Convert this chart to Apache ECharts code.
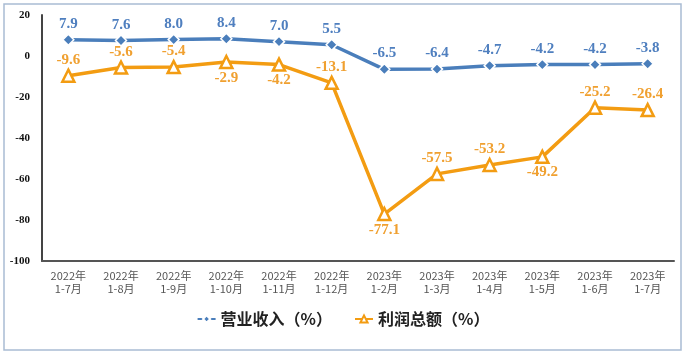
<!DOCTYPE html>
<html><head><meta charset="utf-8">
<script src="https://cdn.jsdelivr.net/npm/echarts@6/dist/echarts.min.js"></script>
<style>html,body{margin:0;padding:0;background:#fff}#c{width:686px;height:355px}</style>
</head><body><div id="c"></div>
<script>
const categories = ['2022年\n1-7月','2022年\n1-8月','2022年\n1-9月','2022年\n1-10月','2022年\n1-11月','2022年\n1-12月','2023年\n1-2月','2023年\n1-3月','2023年\n1-4月','2023年\n1-5月','2023年\n1-6月','2023年\n1-7月'];
const revenue = [7.9, 7.6, 8.0, 8.4, 7.0, 5.5, -6.5, -6.4, -4.7, -4.2, -4.2, -3.8];
const profit = [-9.6, -5.6, -5.4, -2.9, -4.2, -13.1, -77.1, -57.5, -53.2, -49.2, -25.2, -26.4];
const profitLabelPos = ['top','top','top','bottom','bottom','top','bottom','top','top','bottom','top','top'];
const yTicks = [20, 0, -20, -40, -60, -80, -100];

const blue = '#4a7ebb', orange = '#f39c12';
const chart = echarts.init(document.getElementById('c'));
chart.setOption({
  animation: false,
  graphic: [{type:'rect', shape:{x:4,y:4,width:677,height:346}, style:{fill:'none', stroke:'#a9bcd3', lineWidth:1.5}, silent:true}],
  grid: {left: 42, right: 12, top: 15, bottom: 94},
  legend: {
    bottom: 23, left: 'center', itemGap: 22, itemWidth: 18, itemHeight: 9,
    textStyle: {fontSize: 16, fontWeight: 'bold', color: '#222', fontFamily: 'Noto Sans CJK SC'},
    data: ['营业收入（%）', '利润总额（%）']
  },
  xAxis: {
    type: 'category', data: categories, boundaryGap: true,
    axisLine: {onZero: false, lineStyle: {color: '#555', width: 2}},
    axisTick: {show: false},
    axisLabel: {fontSize: 11, color: '#555', lineHeight: 13, margin: 8, fontFamily: 'Noto Sans CJK SC', interval: 0}
  },
  yAxis: {
    type: 'value', min: -100, max: 20, interval: 20,
    axisLine: {show: true, lineStyle: {color: '#444', width: 2}},
    axisTick: {show: false},
    splitLine: {show: false},
    axisLabel: {fontSize: 11, fontWeight: 'bold', color: '#111', margin: 12, fontFamily: 'Liberation Serif'}
  },
  series: [
    {
      name: '营业收入（%）', type: 'line', data: revenue,
      symbol: 'diamond', symbolSize: 11,
      lineStyle: {color: blue, width: 3.5},
      itemStyle: {color: blue, borderColor: '#fff', borderWidth: 1.5},
      label: {show: true, position: 'top', distance: 2, color: '#4f7fbf', fontSize: 15, fontWeight: 'bold', fontFamily: 'Liberation Serif', formatter: p => p.value.toFixed(1)}
    },
    {
      name: '利润总额（%）', type: 'line', data: profit.map((v, i) => ({value: v, label: {position: profitLabelPos[i]}})),
      symbol: 'triangle', symbolSize: 12,
      lineStyle: {color: orange, width: 3.5},
      itemStyle: {color: '#fff', borderColor: orange, borderWidth: 2.5},
      label: {show: true, distance: 1, color: '#f0a030', fontSize: 15, fontWeight: 'bold', fontFamily: 'Liberation Serif', formatter: p => p.value.toFixed(1)}
    }
  ]
});
</script></body></html>
